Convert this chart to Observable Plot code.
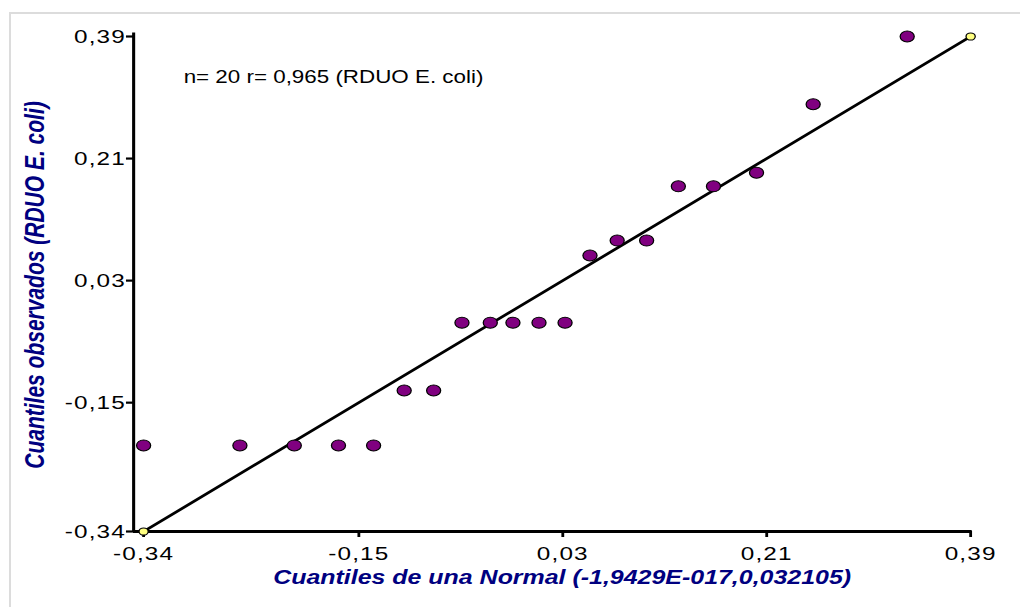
<!DOCTYPE html>
<html><head><meta charset="utf-8">
<script src="https://cdn.jsdelivr.net/npm/d3@7"></script>
<script src="https://cdn.jsdelivr.net/npm/@observablehq/plot@0.6"></script>
<style>
html,body{margin:0;padding:0;background:#fff;}
#wrap{position:relative;width:1020px;height:607px;overflow:hidden;}
#frame{position:absolute;left:9px;top:12px;right:-10px;bottom:-10px;border-top:2px solid #dcdcdc;border-left:2px solid #dcdcdc;}
#chart{position:absolute;left:0;top:0;transform-origin:0 0;}
#chart svg g[aria-label$="tick label"] text{letter-spacing:0.9px;}
</style></head><body>
<div id="wrap"><div id="frame"></div><div id="chart"></div></div>
<script>
// Theoretical normal quantiles (x) and observed quantiles (y)
const theoreticalQ = [-0.340, -0.255, -0.207, -0.168, -0.137, -0.110, -0.084, -0.059, -0.034, -0.014,
                      0.009, 0.032, 0.054, 0.078, 0.104, 0.132, 0.163, 0.201, 0.251, 0.334];
const observedQ   = [-0.213, -0.213, -0.213, -0.213, -0.213, -0.132, -0.132, -0.032, -0.032, -0.032,
                      -0.032, -0.032, 0.067, 0.089, 0.089, 0.169, 0.169, 0.189, 0.290, 0.390];
const refLine = [-0.34, 0.39];
const tickValues = [-0.34, -0.15, 0.03, 0.21, 0.39];
const annotation = "n= 20 r= 0,965 (RDUO E. coli)";
const xLabel = "Cuantiles de una Normal (-1,9429E-017,0,032105)";
const yLabel = "Cuantiles observados (RDUO E. coli)";

const S = 1.28;
const fmt = d3.formatLocale({decimal: ",", thousands: ".", grouping: [3], currency: ["", ""], minus: "-"}).format(".2f");
const points = theoreticalQ.map((x, i) => ({x, y: observedQ[i]}));
const linePts = refLine.map(v => ({x: v, y: v}));
const xMin = -0.3488;
const font = "'Liberation Sans', Arial, sans-serif";

const plot = Plot.plot({
  width: 1020 / S, height: 607,
  marginLeft: 133 / S, marginRight: 50 / S, marginTop: 36, marginBottom: 76,
  x: {domain: [xMin, 0.39]},
  y: {domain: [-0.34, 0.39]},
  style: {fontFamily: font, background: "transparent", overflow: "visible", color: "#000"},
  marks: [
    Plot.axisX({ticks: tickValues, tickFormat: fmt, tickSize: 6, tickPadding: 9, fontSize: 19, strokeWidth: 2.2, label: null}),
    Plot.axisY({ticks: tickValues, tickFormat: fmt, tickSize: 5.5, tickPadding: 0.5, fontSize: 19, strokeWidth: 2.2, label: null}),
    Plot.ruleX([xMin], {y1: -0.34, y2: 0.395, stroke: "#000", strokeWidth: 2.4}),
    Plot.ruleY([-0.34], {x1: xMin, x2: 0.3915, stroke: "#000", strokeWidth: 3}),
    Plot.line(linePts, {x: "x", y: "y", stroke: "#000", strokeWidth: 2.6}),
    Plot.dot(points, {x: "x", y: "y", r: 5.5, fill: "#800080", stroke: "#000", strokeWidth: 1}),
    Plot.dot(linePts, {x: "x", y: "y", r: 3.6, fill: "#ffff80", stroke: "#000", strokeWidth: 1}),
    Plot.text([annotation], {frameAnchor: "top-left", dx: 50 / S, dy: 34, textAnchor: "start", fontSize: 17.5, fill: "#000"}),
    Plot.text([xLabel], {frameAnchor: "bottom", dx: 10 / S, dy: 52, fontSize: 19.5, fontWeight: "bold", fontStyle: "italic", fill: "#000080"}),
    Plot.text([yLabel], {frameAnchor: "left", textAnchor: "middle", dx: -98 / S, dy: 1, rotate: -90, fontSize: 21, fontWeight: "bold", fontStyle: "italic", fill: "#000080"})
  ]
});
const chart = document.getElementById("chart");
chart.style.transform = `scale(${S}, 1)`;
chart.appendChild(plot);
</script>
</body></html>
